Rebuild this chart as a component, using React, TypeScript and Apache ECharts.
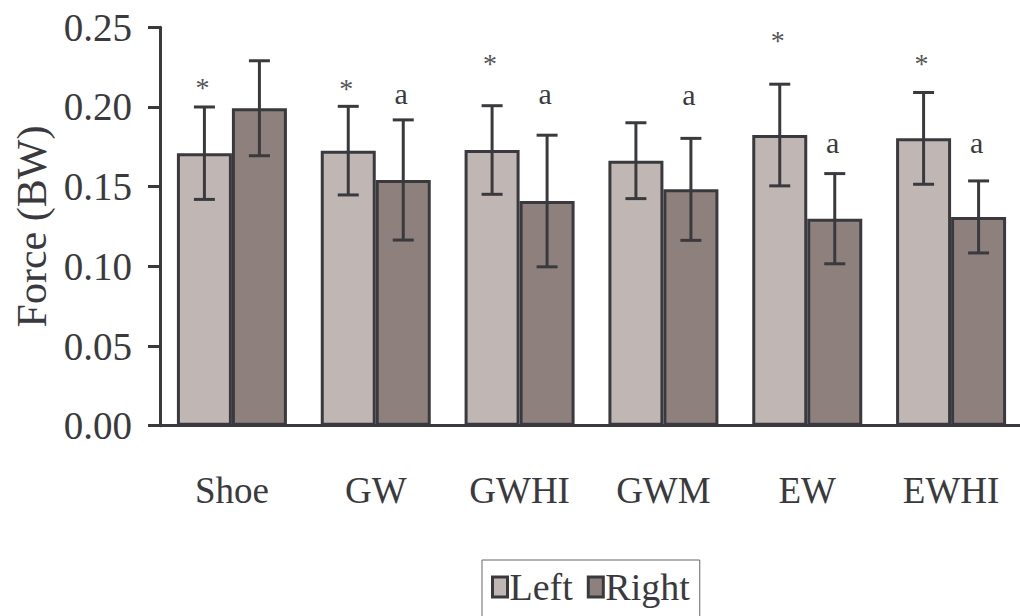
import React, { useEffect, useRef } from "react";
import * as echarts from "echarts";

const categories = ["Shoe", "GW", "GWHI", "GWM", "EW", "EWHI"];
const leftValues = [0.171, 0.1726, 0.173, 0.1663, 0.1824, 0.1803];
const rightValues = [0.1992, 0.1542, 0.141, 0.1483, 0.1299, 0.131];
const leftErrors = [0.029, 0.0278, 0.0278, 0.0238, 0.0319, 0.0288];
const rightErrors = [0.0298, 0.0377, 0.0413, 0.032, 0.0283, 0.0226];
const leftMarks = ["*", "*", "*", "", "*", "*"];
const rightMarks = ["", "a", "a", "a", "a", "a"];
const leftMarkLevels = [0.212, 0.2117, 0.2274, 0, 0.2416, 0.227];
const rightMarkLevels = [0, 0.2086, 0.2086, 0.208, 0.178, 0.178];
const yTicks = [0, 0.05, 0.1, 0.15, 0.2, 0.25];

const DARK = "#3a3a3e";
const LEFT_COLOR = "#c0b6b3";
const RIGHT_COLOR = "#8e807c";
const FONT = "Liberation Serif";
const BAR_W = 55;

export default function App() {
  const ref = useRef<HTMLDivElement>(null);
  useEffect(() => {
    document.body.style.margin = "0";
    if (!ref.current) return;
    const chart = echarts.init(ref.current, null, { renderer: "svg" });

    const errData: any[] = [];
    categories.forEach((_, i) => {
      errData.push([i, leftValues[i], leftErrors[i], -1]);
      errData.push([i, rightValues[i], rightErrors[i], 1]);
    });
    const markData: any[] = [];
    categories.forEach((_, i) => {
      if (leftMarks[i]) markData.push([i, leftMarkLevels[i], -1, leftMarks[i]]);
      if (rightMarks[i]) markData.push([i, rightMarkLevels[i], 1, rightMarks[i]]);
    });

    chart.setOption({
      animation: false,
      grid: {
        left: 160,
        right: -3,
        top: 27.3,
        bottom: 190.3,
        containLabel: false,
        outerBoundsMode: "none",
      },
      legend: {
        data: ["Left", "Right"],
        top: 560,
        left: 482,
        icon: "rect",
        itemWidth: 15,
        itemHeight: 20,
        itemGap: 14,
        borderColor: "#666",
        borderWidth: 1,
        padding: [8, 10, 30, 9],
        itemStyle: { borderColor: DARK, borderWidth: 3 },
        textStyle: { fontFamily: FONT, fontSize: 38, color: DARK, padding: [0, 0, 0, -3] },
      },
      xAxis: {
        type: "category",
        data: categories,
        axisLine: { lineStyle: { color: DARK, width: 3 } },
        axisTick: { length: 12, lineStyle: { color: DARK, width: 2 } },
        axisLabel: { fontFamily: FONT, fontSize: 37, color: DARK, margin: 46, interval: 0 },
      },
      yAxis: {
        type: "value",
        min: 0,
        max: 0.25,
        interval: 0.05,
        name: "Force (BW)",
        nameLocation: "middle",
        nameGap: 107,
        nameTextStyle: { fontFamily: FONT, fontSize: 42, color: DARK },
        axisLine: { show: true, lineStyle: { color: DARK, width: 3 } },
        axisTick: { show: true, length: 12, lineStyle: { color: DARK, width: 3 } },
        axisLabel: {
          fontFamily: FONT,
          fontSize: 39,
          color: DARK,
          margin: 28,
          formatter: (v: number) => (yTicks.some((t) => Math.abs(t - v) < 1e-9) ? v.toFixed(2) : ""),
        },
        splitLine: { show: false },
      },
      series: [
        {
          name: "Left",
          type: "bar",
          data: leftValues,
          barWidth: BAR_W,
          barGap: "0%",
          itemStyle: { color: LEFT_COLOR, borderColor: DARK, borderWidth: 3 },
        },
        {
          name: "Right",
          type: "bar",
          data: rightValues,
          barWidth: BAR_W,
          barGap: "0%",
          itemStyle: { color: RIGHT_COLOR, borderColor: DARK, borderWidth: 3 },
        },
        {
          type: "custom",
          data: errData,
          encode: { x: 0, y: 1 },
          z: 10,
          renderItem: (params: any, api: any) => {
            const i = api.value(0);
            const v = api.value(1);
            const e = api.value(2);
            const side = api.value(3);
            const top = api.coord([i, v + e]);
            const bot = api.coord([i, v - e]);
            const x = top[0] + side * (BAR_W / 2);
            const cap = 10.5;
            const style = { stroke: DARK, lineWidth: 3 };
            return {
              type: "group",
              children: [
                { type: "line", shape: { x1: x, y1: top[1], x2: x, y2: bot[1] }, style },
                { type: "line", shape: { x1: x - cap, y1: top[1], x2: x + cap, y2: top[1] }, style },
                { type: "line", shape: { x1: x - cap, y1: bot[1], x2: x + cap, y2: bot[1] }, style },
              ],
            };
          },
        },
        {
          type: "custom",
          data: markData,
          encode: { x: 0, y: 1 },
          z: 11,
          renderItem: (params: any, api: any) => {
            const i = api.value(0);
            const lvl = api.value(1);
            const side = api.value(2);
            const txt = markData[params.dataIndex][3];
            const p = api.coord([i, lvl]);
            const isStar = txt === "*";
            return {
              type: "text",
              x: p[0] + side * (BAR_W / 2) - 2,
              y: p[1],
              style: {
                text: txt,
                fontFamily: FONT,
                fontSize: isStar ? 28 : 30,
                fill: isStar ? "#555" : DARK,
                align: "center",
                verticalAlign: "middle",
              },
            };
          },
        },
      ],
    });
    return () => chart.dispose();
  }, []);
  return <div ref={ref} style={{ width: 1020, height: 616 }} />;
}
